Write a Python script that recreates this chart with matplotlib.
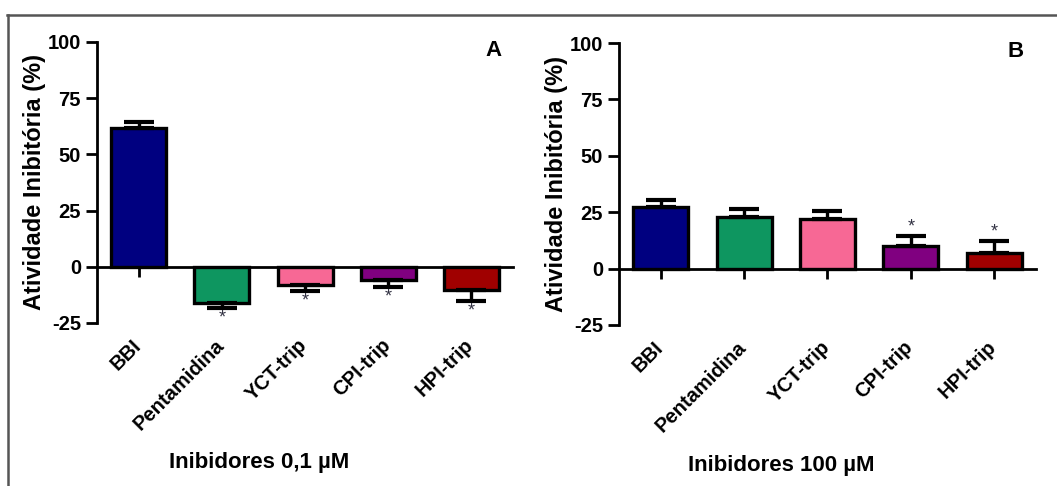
import matplotlib
matplotlib.use('Agg')
import matplotlib.pyplot as plt
from matplotlib.lines import Line2D
from matplotlib.transforms import blended_transform_factory

plt.rcParams['font.family'] = ['Liberation Sans', 'DejaVu Sans']
plt.rcParams['font.weight'] = 'bold'
plt.rcParams['axes.unicode_minus'] = False

inibidores = ["BBI", "Pentamidina", "YCT-trip", "CPI-trip", "HPI-trip"]
cores = ["#000080", "#0e9660", "#f76895", "#800080", "#a00000"]

# painel A - 0,1 uM
media_a = [61.8, -16.0, -8.3, -5.8, -10.5]
erro_a = [2.7, 2.3, 2.4, 3.0, 4.5]
signif_a = [False, True, True, True, True]

# painel B - 100 uM
media_b = [27.2, 23.0, 22.0, 10.1, 7.1]
erro_b = [3.3, 3.4, 3.7, 4.5, 5.2]
signif_b = [False, False, False, True, True]

yticks = [-25, 0, 25, 50, 75, 100]


def Plot_Painel(ax, media, erro, signif, xlabel, letra):
    x = list(range(len(inibidores)))
    # eixo x passa no zero
    ax.spines["bottom"].set_position(("data", 0))
    ax.spines["top"].set_visible(False)
    ax.spines["right"].set_visible(False)
    ax.spines["left"].set_linewidth(2)
    ax.spines["bottom"].set_linewidth(2)

    ax.bar(x, media, width=0.66, color=cores, edgecolor="black", linewidth=2.4, zorder=2)
    baixo = [e if m < 0 else 0 for m, e in zip(media, erro)]
    cima = [e if m >= 0 else 0 for m, e in zip(media, erro)]
    ax.errorbar(x, media, yerr=[baixo, cima], fmt="none", ecolor="black",
                elinewidth=2.4, capsize=10.5, capthick=3, zorder=3)
    for i, s in enumerate(signif):
        if s:
            if media[i] < 0:
                y = media[i] - erro[i] - 4.5
            else:
                y = media[i] + erro[i] + 4.0
            ax.text(i, y, "*", ha="center", va="center", fontsize=13,
                    fontweight="normal", color="#333344")
    ax.set_xlim(-0.5, 4.5)
    ax.set_ylim(-25, 100)
    ax.set_yticks(yticks)
    ax.set_xticks(x)
    ax.set_xticklabels([])
    ax.tick_params(axis="y", labelsize=14.5, width=2, length=8, direction="out")
    ax.tick_params(axis="x", width=2, length=7, direction="out")
    for lab in ax.get_yticklabels():
        lab.set_fontweight("bold")

    # rótulos das categorias abaixo do fim do eixo y
    trans = blended_transform_factory(ax.transData, ax.transAxes)
    for i, nome in enumerate(inibidores):
        ax.text(i - 0.09, -0.045, nome, transform=trans, rotation=45,
                ha="right", va="top", rotation_mode="anchor",
                fontsize=14.5, fontweight="bold")

    ax.set_ylabel("Atividade Inibitória (%)", fontsize=17, fontweight="bold", labelpad=1)
    ax.set_xlabel(xlabel, fontsize=16, fontweight="bold")
    ax.xaxis.set_label_coords(0.39, -0.46)
    ax.text(0.952, 0.97, letra, transform=ax.transAxes, ha="center", va="center",
            fontsize=16, fontweight="bold")


fig = plt.figure(figsize=(10.57, 4.86), dpi=100)
ax1 = fig.add_axes([0.0918, 0.3354, 0.3936, 0.5782])
ax2 = fig.add_axes([0.5856, 0.3313, 0.3945, 0.5802])

Plot_Painel(ax1, media_a, erro_a, signif_a, "Inibidores 0,1 µM", "A")
Plot_Painel(ax2, media_b, erro_b, signif_b, "Inibidores 100 µM", "B")

# moldura
fig.add_artist(Line2D([7 / 1057, 1], [1 - 15 / 486, 1 - 15 / 486], color="#555555", linewidth=1.8))
fig.add_artist(Line2D([8 / 1057, 8 / 1057], [0, 1 - 15 / 486], color="#555555", linewidth=1.8))

plt.savefig("out.png", dpi=100)
plt.close()
